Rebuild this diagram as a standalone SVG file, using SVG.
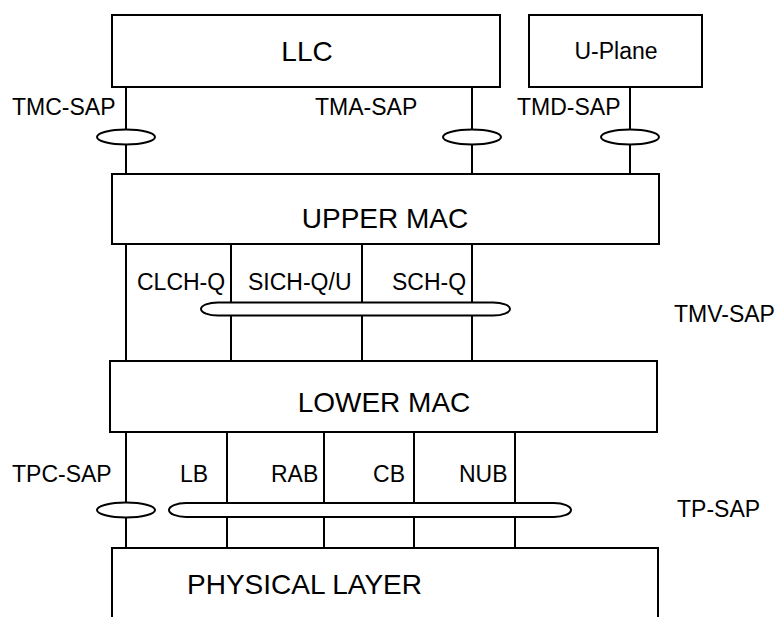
<svg xmlns="http://www.w3.org/2000/svg" width="780" height="617" viewBox="0 0 780 617">
<style>
  .box { fill: #fff; stroke: #000; stroke-width: 2; }
  .ln { fill: none; stroke: #000; stroke-width: 2; }
  .sap { fill: #fff; stroke: #000; stroke-width: 2; }
  text { font-family: "Liberation Sans", Arial, sans-serif; fill: #000; }
  .big { font-size: 28px; text-anchor: middle; }
  .lbl { font-size: 23px; }
</style>
<rect width="780" height="617" fill="#fff"/>
<g id="connectors">
  <path class="ln" d="M126 87V174M472 87V174M630 87V174"/>
  <path class="ln" d="M126 244V361M231 244V361M362 244V361M472 244V361"/>
  <path class="ln" d="M126 432V548M227 432V548M324 432V548M414 432V548M515 432V548"/>
</g>
<g id="llc">
  <rect class="box" x="112" y="15" width="388" height="72"/>
  <text class="big" x="307" y="61" font-size="27">LLC</text>
</g>
<g id="uplane">
  <rect class="box" x="529" y="15" width="173" height="72"/>
  <text class="lbl" x="616" y="59" text-anchor="middle">U-Plane</text>
</g>
<g id="upper-mac">
  <rect class="box" x="112" y="174" width="547" height="70"/>
  <text class="big" x="385" y="228">UPPER MAC</text>
</g>
<g id="lower-mac">
  <rect class="box" x="110" y="361" width="547" height="71"/>
  <text class="big" x="384" y="412">LOWER MAC</text>
</g>
<g id="physical-layer">
  <path class="box" d="M112 620V548H658V620"/>
  <text x="187" y="594" font-size="28">PHYSICAL LAYER</text>
</g>
<g id="tmc-sap">
  <ellipse class="sap" cx="126" cy="137" rx="29" ry="7.5"/>
  <text class="lbl" x="12" y="115">TMC-SAP</text>
</g>
<g id="tma-sap">
  <ellipse class="sap" cx="472" cy="137" rx="29" ry="7.5"/>
  <text class="lbl" x="315" y="115">TMA-SAP</text>
</g>
<g id="tmd-sap">
  <ellipse class="sap" cx="630" cy="137" rx="29" ry="7.5"/>
  <text class="lbl" x="517" y="115">TMD-SAP</text>
</g>
<g id="tmv-sap">
  <path class="sap" d="M218 302.5H493A17 6.5 0 0 1 493 315.5H218A17 6.5 0 0 1 218 302.5Z"/>
  <text class="lbl" x="137" y="290">CLCH-Q</text>
  <text class="lbl" x="248" y="290">SICH-Q/U</text>
  <text class="lbl" x="392" y="290">SCH-Q</text>
  <text class="lbl" x="674" y="322">TMV-SAP</text>
</g>
<g id="tpc-sap">
  <ellipse class="sap" cx="126" cy="510" rx="29" ry="7.5"/>
  <text class="lbl" x="12" y="482">TPC-SAP</text>
</g>
<g id="tp-sap">
  <path class="sap" d="M186 503H554A17 7 0 0 1 554 517H186A17 7 0 0 1 186 503Z"/>
  <text class="lbl" x="180" y="482">LB</text>
  <text class="lbl" x="271" y="482">RAB</text>
  <text class="lbl" x="405" y="482" text-anchor="end">CB</text>
  <text class="lbl" x="459" y="482">NUB</text>
  <text class="lbl" x="677" y="517">TP-SAP</text>
</g>
</svg>
